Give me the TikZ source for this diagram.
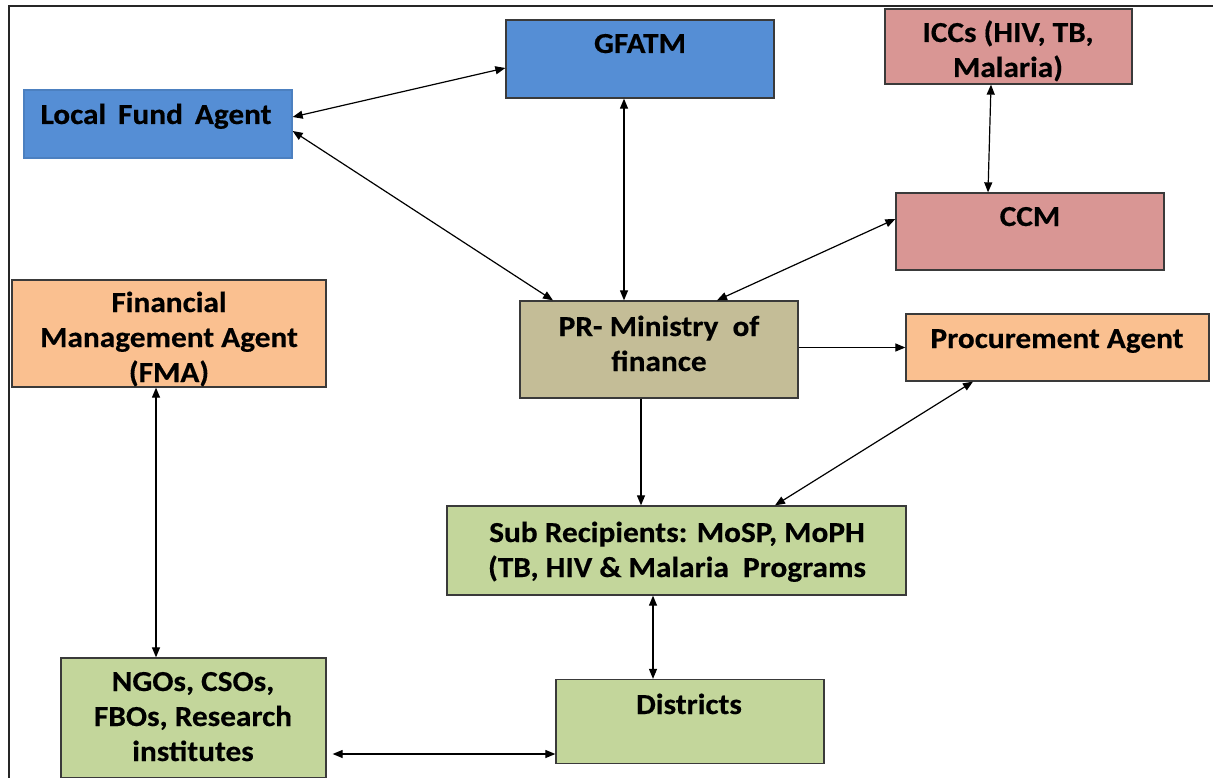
\documentclass[tikz,border=0pt]{standalone}
\usepackage{fontspec}
\setmainfont{Carlito}[FakeStretch=1.08, BoldFeatures={FakeBold=0.4}]
\usetikzlibrary{arrows.meta}
\definecolor{cblue}{HTML}{558ED5}
\definecolor{cpink}{HTML}{D99694}
\definecolor{corange}{HTML}{FAC090}
\definecolor{ckhaki}{HTML}{C4BD97}
\definecolor{cgreen}{HTML}{C3D69B}
\definecolor{cedge}{HTML}{3A3A3A}
\tikzset{
  box/.style={draw=cedge, line width=1.3pt, rectangle, inner sep=0pt},
  txt/.style={font=\bfseries\fontsize{29}{35}\selectfont, align=center, inner sep=0pt, anchor=base},
  link/.style={line width=1.2pt, {Triangle[length=10pt,width=8pt]}-{Triangle[length=10pt,width=8pt]}},
  onelink/.style={line width=1.2pt, -{Triangle[length=10pt,width=8pt]}},
}
\begin{document}
\begin{tikzpicture}[x=1pt,y=-1pt]
\useasboundingbox (0,0) rectangle (1213,778);
\draw[line width=2pt, black!85] (9,780) -- (9,6) -- (1215,6);

% boxes
\node[box, draw=cblue!90!black, fill=cblue, minimum width=268pt, minimum height=68pt] (lfa) at (158,124) {};
\node[box, fill=cblue, minimum width=268pt, minimum height=78pt] (gfatm) at (640,59) {};
\node[box, fill=cpink, minimum width=247pt, minimum height=75pt] (iccs) at (1008.5,46.5) {};
\node[box, fill=cpink, minimum width=268pt, minimum height=77pt] (ccm) at (1030,231.5) {};
\node[box, fill=corange, minimum width=314pt, minimum height=107pt] (fma) at (169,333.5) {};
\node[box, fill=ckhaki, minimum width=278pt, minimum height=97pt] (pr) at (659,349.5) {};
\node[box, fill=corange, minimum width=303pt, minimum height=67pt] (proc) at (1057.5,347.5) {};
\node[box, fill=cgreen, minimum width=459pt, minimum height=89pt] (sub) at (676.5,550.5) {};
\node[box, fill=cgreen, minimum width=265pt, minimum height=120pt] (ngo) at (193.5,718) {};
\node[box, fill=cgreen, minimum width=268pt, minimum height=84pt] (dist) at (690,721.5) {};

% texts
\node[txt] (lfa-t) at (156,124) {Local\ \,Fund\ \,Agent};
\node[txt] (gfatm-t) at (640,53) {GFATM};
\node[txt] (iccs-t) at (1008,77) {ICCs (HIV, TB,\\Malaria)};
\node[txt] (ccm-t) at (1030,226) {CCM};
\node[txt] (fma-t) at (169,382) {Financial\\Management Agent\\(FMA)};
\node[txt] (pr-t) at (659,371) {PR- Ministry\ \ of\\finance};
\node[txt] (proc-t) at (1057,348) {Procurement Agent};
\node[txt] (sub-t) at (677,577) {Sub Recipients: MoSP, MoPH\\(TB, HIV \& Malaria\ \ Programs};
\node[txt] (ngo-t) at (193,761) {NGOs, CSOs,\\FBOs, Research\\institutes};
\node[txt] (dist-t) at (689,714) {Districts};

% connectors
\draw[link] ([yshift=7pt]lfa.east) -- ([yshift=-9pt]gfatm.west);
\draw[link] ([yshift=-7pt]lfa.east) -- ([xshift=-106pt]pr.north);
\draw[link] ([xshift=-16pt]gfatm.south) -- ([xshift=-35pt]pr.north);
\draw[link] ([xshift=-17.5pt]iccs.south) -- ([xshift=-42pt]ccm.north);
\draw[link] ([yshift=12.5pt]ccm.west) -- ([xshift=58pt]pr.north);
\draw[onelink] (pr.east |- proc.west) -- (proc.west);
\draw[onelink] ([xshift=-18pt]pr.south) -- ([xshift=-35.5pt]sub.north);
\draw[link] ([xshift=-84.5pt]proc.south) -- ([xshift=98.5pt]sub.north);
\draw[link] ([xshift=-23.5pt]sub.south) -- ([xshift=-37pt]dist.north);
\draw[link] ([xshift=-13pt]fma.south) -- ([xshift=-37.5pt]ngo.north);
\draw[link] ([xshift=6pt,yshift=-36pt]ngo.east) -- ([yshift=-32.5pt]dist.west);
\end{tikzpicture}
\end{document}
